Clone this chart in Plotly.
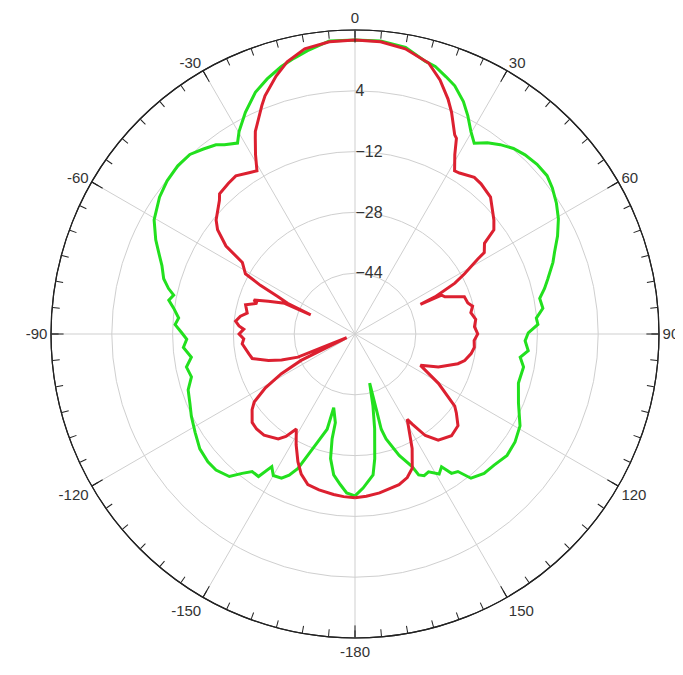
import plotly.graph_objects as go

# ---- data (angle in degrees, clockwise from top; level in dB) ----
red_theta = [-180, -176, -172.4, -167, -162.6, -159, -155.9, -152, -148.3, -146, -143.8, -138, -134,
             -130.7, -126.3, -124, -121, -118.3, -116.1, -114, -112.1, -109.5, -107, -103.4, -100.6,
             -95, -92.5, -90, -87.5, -86, -83.9, -81.2, -79, -75.1, -72.6, -71.4, -69.3, -66.4, -66.6,
             -65.5, -64.1, -62.8, -61.2, -57.6, -55.7, -52.8, -50.6, -45.4, -44, -40, -37, -33, -31,
             -29, -27, -26.2, -22.2, -20.7, -17, -14, -10, -5, 0, 5, 10, 15.2, 18.5, 21.6, 23.5, 26.6,
             27.4, 29.1, 31.4, 33, 37.3, 40, 44.7, 50.6, 53.1, 55, 57.8, 58.6, 61.2, 63, 65.1, 65.6,
             65.8, 67.5, 71.2, 74.6, 76.7, 79.6, 83.1, 86.5, 90, 93.2, 96.4, 99.6, 103.6, 106.1, 111.6,
             115.6, 120.6, 125.9, 127.9, 131.7, 136.5, 141.9, 145.3, 147.6, 148.5, 153.5, 156.9, 160,
             163.7, 171.2, 176, 180]
red_r = [-16.9, -17.1, -17.4, -17.9, -18.5, -20.5, -23.2, -27.0, -30.6, -27.5, -25.8, -24.2, -24.0,
         -24.3, -26.4, -28.0, -32.5, -38.0, -44.2, -57.6, -43.8, -39.5, -36.2, -32.2, -31.6,
         -30.2, -30.7, -29.5, -30.7, -29.4, -28.4, -29.5, -31.1, -30.2, -33.0, -31.9, -35.6, -39.8, -47.3,
         -40.5, -37.5, -32.0, -27.1, -24.9, -18.9, -14.6, -12.7, -9.9, -8.7, -8.2, -7.9, -9.3, -9.9,
         -6.0, -2.2, -0.6, 4.9, 7.0, 11.0, 13.8, 16.2, 17.2, 17.4, 17.2, 16.2, 13.9, 10.5, 6.5, 3.7, -1.4,
         -2.0, -6.0, -9.7, -9.5, -8.2, -8.4, -9.3, -12.7, -14.3, -18.4, -19.8, -22.2, -27.1, -30.5, -36.8, -41.1,
         -35.0, -34.4, -29.6, -29.2, -28.2, -29.0, -28.0, -28.5, -27.7, -28.6, -28.4, -29.0, -30.3, -31.8, -36.4,
         -40.9, -34.5, -27.6, -26.2, -23.7, -23.1, -24.5, -27.5, -31.9, -33.7, -26.3, -21.6, -19.8,
         -18.7, -17.7, -17.2, -16.9]

green_theta = [-180, -177, -174.4, -171.4, -168.9, -167.7, -167.5, -163.9, -163.7, -160.9, -157, -155,
               -153, -150, -147.9, -145.9, -143.2, -141, -138.6, -134.4, -131, -126.5, -121.6, -116.7,
               -112.7, -108.5, -104.7, -101.1, -98.1, -94.5, -91.8, -89.6, -87, -84.8, -81.9, -79.7,
               -77.9, -76.3, -73.9, -70.5, -67.5, -64.7, -60.4, -55, -50.8, -46.5, -42.6, -39.5, -36.3,
               -34.6, -31.6, -29.8, -26.3, -22.4, -19, -15.4, -12.5, -9.5, -5, 0, 5, 10, 14.5, 16.7,
               19.5, 21.9, 25, 27.3, 29.8, 32, 34.7, 37.5, 40.5, 43.5, 47, 50.5, 53.5, 57, 60.5, 64.2,
               67.8, 70.1, 74, 76.5, 79.1, 82.2, 85, 87, 89.6, 92.3, 95.5, 98, 101.1, 106.7, 112.9,
               119.1, 124, 128.6, 133.3, 137.2, 141.2, 143.2, 145.3, 146.9, 149, 151.9, 154, 155.7,
               156.7, 160, 163.5, 164.6, 164.2, 163.4, 166, 168.3, 171, 172.7, 177, 180]
green_r = [-17.4, -18.1, -20.2, -22.5, -26.6, -31.7, -36.1, -39.8, -33.9, -29.9, -21.6, -19.0,
           -17.4, -17.0, -18.8, -14.7, -14.8, -12.8, -10.0, -8.8, -8.7, -9.2, -10.6, -11.8,
           -12.9, -13.7, -15.5, -14.8, -16.5, -14.7, -15.7, -14.4, -12.6, -13.4, -11.8, -10.2,
           -11.2, -9.5, -7.6, -6.1, -4.1, -2.0, 0.8, 2.8, 3.8, 4.3, 4.2, 3.0, 1.8,
           0.5, -1.0, 1.4, 5.1, 8.8, 11.0, 13.0, 14.3, 15.6, 17.4, 17.4, 17.4, 16.6, 14.1, 13.5,
           11.8, 10.4, 7.5, 4.7, 1.4, -0.8, 1.2, 2.8, 4.2, 5.0, 5.5, 5.5, 4.6, 3.2, 1.5, -0.8,
           -3.3, -4.6, -7.2, -8.7, -10.5, -10.1, -12.1, -11.8, -14.4, -15.2, -14.2, -16.1, -14.8, -15.1, -13.3,
           -10.3, -9.2, -8.8, -9.7, -10.0, -11.3, -14.8, -15.4, -18.3, -17.0, -18.9, -18.5, -19.3,
           -22.0, -26.0, -31.2, -34.0, -39.4, -46.5, -40.5, -34.5, -26.8, -22.6, -19.4, -17.4]

radial_ticks = [-44, -28, -12, 4]
angle_major = [0, 30, 60, 90, 120, 150, 180, 210, 240, 270, 300, 330]
angle_labels = ["0", "30", "60", "90", "120", "150", "-180", "-150", "-120", "-90", "-60", "-30"]
minor_angles = list(range(0, 360, 5))

FONT = "Liberation Sans, Arial, sans-serif"

fig = go.Figure()
fig.add_trace(go.Scatterpolar(theta=green_theta, r=green_r, mode="lines",
                              line=dict(color="#22e01e", width=3), subplot="polar",
                              hoverinfo="skip"))
fig.add_trace(go.Scatterpolar(theta=red_theta, r=red_r, mode="lines",
                              line=dict(color="#dc2030", width=3), subplot="polar",
                              hoverinfo="skip"))
# invisible trace to hold the minor-tick overlay subplot
fig.add_trace(go.Scatterpolar(theta=[0], r=[-60], mode="markers", marker=dict(opacity=0),
                              subplot="polar2", hoverinfo="skip"))

fig.update_layout(
    width=683, height=675,
    margin=dict(l=43, r=32, t=22, b=45),
    paper_bgcolor="white",
    showlegend=False,
    polar=dict(
        bgcolor="white",
        domain=dict(x=[0, 1], y=[0, 1]),
        radialaxis=dict(range=[-60, 20], tickvals=radial_ticks, ticks="", showline=False,
                        gridcolor="#cfcfcf", gridwidth=1, angle=90, tickangle=90,
                        tickfont=dict(family=FONT, size=16, color="#333333")),
        angularaxis=dict(rotation=90, direction="clockwise", tickmode="array",
                         tickvals=angle_major, ticktext=angle_labels,
                         ticks="inside", ticklen=12, tickcolor="#222222",
                         showline=True, linecolor="#222222", linewidth=1.2,
                         gridcolor="#cfcfcf", gridwidth=1,
                         tickfont=dict(family=FONT, size=15, color="#333333")),
    ),
    polar2=dict(
        bgcolor="rgba(0,0,0,0)",
        domain=dict(x=[0, 1], y=[0, 1]),
        radialaxis=dict(range=[-60, 20], visible=False, showgrid=False),
        angularaxis=dict(rotation=90, direction="clockwise", tickmode="array",
                         tickvals=minor_angles, ticktext=["" for _ in minor_angles],
                         ticks="inside", ticklen=7, tickcolor="#222222",
                         showline=True, linecolor="#222222", linewidth=1.2,
                         showgrid=False, showticklabels=False),
    ),
)

fig.write_html("out.html")
